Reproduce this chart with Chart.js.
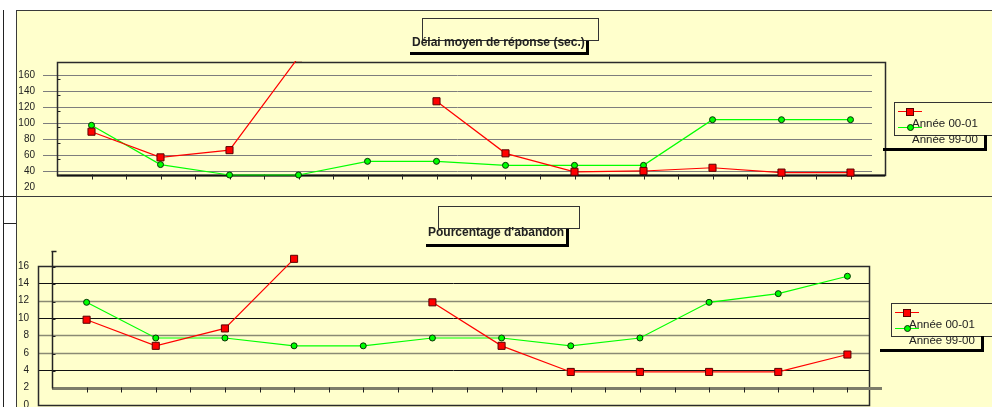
<!DOCTYPE html>
<html lang="fr">
<head>
<meta charset="utf-8">
<title>Délai moyen de réponse / Pourcentage d'abandon</title>
<script src="https://cdn.jsdelivr.net/npm/chart.js@4.4.1/dist/chart.umd.min.js"></script>
<style>
    html, body { margin: 0; padding: 0; background: #fff; }
    body { width: 992px; height: 407px; position: relative; overflow: hidden;
           font-family: Arial, "Liberation Sans", sans-serif; color: #222; }
    .panel { position: absolute; background: #ffffcc; border: 1px solid #3a3a3a; box-sizing: border-box; }
    .rule { position: absolute; background: #222; }
    .chart-box { position: absolute; left: 0; width: 992px; }
    .frame { position: absolute; border: 1px solid #333; box-sizing: border-box; }
    .title-text { position: absolute; font-weight: bold; font-size: 12px; line-height: 13px; white-space: nowrap; }
    .shadow { position: absolute; background: #000; }
    .legend { position: absolute; }
    .legend .frame { background: #ffffcc; }
    .legend .sample { position: absolute; height: 1px; width: 24px; }
    .legend .mark { position: absolute; box-sizing: border-box; }
    .legend .label { position: absolute; font-size: 11.5px; line-height: 13px; white-space: nowrap; }
</style>
</head>
<body>

<!-- left strip -->
<div class="rule" style="left:3px; top:10px; width:1px; height:397px;"></div>
<div class="rule" style="left:0; top:196px; width:17px; height:1px;"></div>
<div class="rule" style="left:3px; top:223px; width:13px; height:1px;"></div>

<div class="panel" style="left:16px; top:10px; width:990px; height:188px;"></div>
<div class="panel" style="left:16px; top:196px; width:990px; height:230px;"></div>

<div class="chart-box" style="top:0; height:197px;"><canvas id="chart-delai" width="992" height="197"></canvas></div>
<div class="chart-box" style="top:197px; height:214px;"><canvas id="chart-abandon" width="992" height="214"></canvas></div>

<!-- titles -->
<div class="frame" style="left:422px; top:18px; width:177px; height:23px;"></div>
<div class="title-text" style="left:412px; top:36px;">Délai moyen de réponse (sec.)</div>
<div class="shadow" style="left:410px; top:52px; width:178px; height:3px;"></div>
<div class="shadow" style="left:586px; top:41px; width:3px; height:14px;"></div>

<div class="frame" style="left:438px; top:206px; width:142px; height:23px;"></div>
<div class="title-text" style="left:428px; top:226px;">Pourcentage d'abandon</div>
<div class="shadow" style="left:426px; top:244px; width:142px; height:3px;"></div>
<div class="shadow" style="left:566px; top:229px; width:3px; height:18px;"></div>

<div class="legend" id="legend-delai" style="left:883px; top:102px;"></div>
<div class="legend" id="legend-abandon" style="left:880px; top:303px;"></div>

<script>
// 12 periods, no labels shown on the axis
const PERIODES = ['1', '2', '3', '4', '5', '6', '7', '8', '9', '10', '11', '12'];
const SERIES_NAMES = ['Année 00-01', 'Année 99-00'];

// Délai moyen de réponse (sec.)
const DELAI_0001 = [89, 57, 66, 182, null, 127, 62, 39, 40, 44, 38, 38];
const DELAI_9900 = [97, 48, 35, 35, 52, 52, 47, 47, 47, 104, 104, 104];
const DELAI_TICKS = [20, 40, 60, 80, 100, 120, 140, 160];

// Pourcentage d'abandon
const ABANDON_0001 = [9.8, 6.8, 8.8, 16.8, null, 11.8, 6.8, 3.8, 3.8, 3.8, 3.8, 5.8];
const ABANDON_9900 = [11.8, 7.7, 7.7, 6.8, 6.8, 7.7, 7.7, 6.8, 7.7, 11.8, 12.8, 14.8];
const ABANDON_TICKS = [0, 2, 4, 6, 8, 10, 12, 14, 16];

const FONT = 'Arial, "Liberation Sans", sans-serif';
const RED = '#ff0000';
const GREEN = '#00ff00';

function line(ctx, x1, y1, x2, y2) {
    ctx.beginPath();
    ctx.moveTo(x1, y1);
    ctx.lineTo(x2, y2);
    ctx.stroke();
}

// plot box, grid lines and axis lines, drawn behind the series
const framePlugin = {
    id: 'frame',
    beforeDatasetsDraw(chart, args, opts) {
        const { ctx, chartArea: a, scales: { x, y } } = chart;
        ctx.save();

        opts.grid.forEach(v => {
            const py = Math.round(y.getPixelForValue(v)) + 0.5;
            const dark = opts.darkGrid.includes(v);
            ctx.strokeStyle = dark ? '#111' : opts.gridColor;
            ctx.lineWidth = dark ? 1 : opts.gridWidth;
            line(ctx, a.left + opts.gridFrom, py, a.right + opts.gridTo, py);
        });

        const boxTop = Math.round(y.getPixelForValue(opts.boxTop)) + 0.5;
        const boxBottom = Math.round(y.getPixelForValue(opts.boxBottom)) + 0.5;
        const boxLeft = Math.round(a.left + opts.boxFrom) + 0.5;
        const boxRight = Math.round(a.right + opts.boxTo) + 0.5;
        ctx.strokeStyle = '#2a2a2a';
        ctx.lineWidth = 1.5;
        ctx.strokeRect(boxLeft, boxTop, boxRight - boxLeft, boxBottom - boxTop);

        // x axis with ticks at each point and half way between
        const ay = Math.round(y.getPixelForValue(opts.axisAt)) + 0.5;
        ctx.strokeStyle = opts.axisColor;
        ctx.lineWidth = opts.axisWidth;
        line(ctx, a.left + opts.axisFrom, ay, a.right + opts.axisTo, ay);
        const half = (x.getPixelForValue(1) - x.getPixelForValue(0)) / 2;
        ctx.strokeStyle = '#222';
        ctx.lineWidth = 1;
        PERIODES.forEach((p, i) => {
            const px = Math.round(x.getPixelForValue(i)) + 0.5;
            line(ctx, px, ay - 1, px, ay + 4);
            if (i < PERIODES.length - 1) {
                const mx = Math.round(x.getPixelForValue(i) + half) + 0.5;
                line(ctx, mx, ay - 1, mx, ay + 4);
            }
        });

        // separate y axis line (second chart)
        if (opts.yAxisLine) {
            const lx = Math.round(a.left) + 0.5;
            ctx.strokeStyle = '#222';
            ctx.lineWidth = 1.5;
            line(ctx, lx, a.top, lx, ay);
            line(ctx, lx - 1, a.top + 0.5, lx + 4, a.top + 0.5);
            ctx.lineWidth = 1;
            opts.grid.concat([opts.boxTop]).forEach(v => {
                const py = Math.round(y.getPixelForValue(v)) + 1.5;
                line(ctx, lx, py, lx + 3, py);
            });
        } else {
            // little marks inside the left edge of the box
            ctx.strokeStyle = '#222';
            ctx.lineWidth = 1;
            opts.grid.forEach(v => {
                const py = Math.round(y.getPixelForValue(v)) + 4.5;
                line(ctx, boxLeft, py, boxLeft + 3, py);
            });
        }
        ctx.restore();
    }
};

function makeDatasets(red, green) {
    return [
        {
            label: SERIES_NAMES[0],
            data: red,
            borderColor: RED,
            borderWidth: 1.2,
            pointStyle: 'rect',
            pointRadius: 5,
            pointBackgroundColor: RED,
            pointBorderColor: '#5a0000',
            pointBorderWidth: 1,
            spanGaps: false,
            tension: 0,
            clip: { left: 8, right: 8, top: 1, bottom: 8 }
        },
        {
            label: SERIES_NAMES[1],
            data: green,
            borderColor: GREEN,
            borderWidth: 1.2,
            pointStyle: 'circle',
            pointRadius: 3,
            pointBackgroundColor: GREEN,
            pointBorderColor: '#063006',
            pointBorderWidth: 1,
            tension: 0,
            clip: { left: 8, right: 8, top: 1, bottom: 8 }
        }
    ];
}

function makeChart(canvasId, cfg) {
    const ctx = document.getElementById(canvasId);
    return new Chart(ctx, {
        type: 'line',
        data: {
            labels: PERIODES,
            datasets: makeDatasets(cfg.red, cfg.green)
        },
        options: {
            responsive: false,
            animation: false,
            events: [],
            layout: { padding: cfg.padding },
            plugins: {
                legend: { display: false },
                tooltip: { enabled: false },
                frame: cfg.frame
            },
            scales: {
                x: { display: false, offset: true },
                y: {
                    min: cfg.min,
                    max: cfg.max,
                    afterBuildTicks: axis => {
                        axis.ticks = cfg.ticks.map(v => ({ value: v }));
                    },
                    afterFit: scale => {
                        // fixed axis width; labels may overhang the chart area
                        scale.width = cfg.axisWidth;
                        scale.paddingTop = 0;
                        scale.paddingBottom = 0;
                    },
                    grid: { display: false, drawTicks: false },
                    border: { display: false },
                    ticks: {
                        padding: cfg.tickPadding,
                        color: '#222',
                        font: { family: FONT, size: 10 }
                    }
                }
            }
        },
        plugins: [framePlugin]
    });
}

function buildLegend(elId, chart) {
    const el = document.getElementById(elId);
    const ds = chart.data.datasets;
    let html = '<div class="frame" style="left:11px; top:0; width:110px; height:34px;"></div>';
    ds.forEach((d, i) => {
        const sy = 9 + i * 16;
        html += `<div class="sample" style="left:15px; top:${sy}px; background:${d.borderColor};"></div>`;
        if (d.pointStyle === 'rect') {
            html += `<div class="mark" style="left:23px; top:${sy - 3}px; width:8px; height:8px; background:${d.pointBackgroundColor}; border:1px solid ${d.pointBorderColor};"></div>`;
        } else {
            html += `<div class="mark" style="left:24px; top:${sy - 3}px; width:7px; height:7px; border-radius:50%; background:${d.pointBackgroundColor}; border:1px solid ${d.pointBorderColor};"></div>`;
        }
        html += `<div class="label" style="left:29px; top:${15 + i * 16}px;">${d.label}</div>`;
    });
    html += '<div class="shadow" style="left:0; top:46px; width:104px; height:3px;"></div>';
    html += '<div class="shadow" style="left:101px; top:33px; width:3px; height:16px;"></div>';
    el.innerHTML = html;
}

const delaiChart = makeChart('chart-delai', {
    red: DELAI_0001,
    green: DELAI_9900,
    ticks: DELAI_TICKS,
    min: 20,
    max: 176,
    axisWidth: 57,
    tickPadding: 22,
    padding: { top: 62, right: 107, bottom: 10, left: 0 },
    frame: {
        grid: DELAI_TICKS.filter(v => v >= 40),
        darkGrid: [],
        gridColor: '#7d7d7d',
        gridWidth: 1,
        gridFrom: -14,
        gridTo: -13,
        boxTop: 176,
        boxBottom: 35,
        boxFrom: 0,
        boxTo: 0,
        axisAt: 35,
        axisFrom: 0,
        axisTo: 0,
        axisColor: '#111',
        axisWidth: 2,
        yAxisLine: false
    }
});

const abandonChart = makeChart('chart-abandon', {
    red: ABANDON_0001,
    green: ABANDON_9900,
    ticks: ABANDON_TICKS,
    min: 0,
    max: 17.7,
    axisWidth: 52,
    tickPadding: 23,
    padding: { top: 54, right: 110, bottom: 6, left: 0 },
    frame: {
        grid: ABANDON_TICKS.filter(v => v >= 4 && v <= 14),
        darkGrid: [14, 10, 4],
        gridColor: '#8a8a74',
        gridWidth: 1.5,
        gridFrom: -14,
        gridTo: -13,
        boxTop: 16,
        boxBottom: 0,
        boxFrom: -14,
        boxTo: -13,
        axisAt: 2,
        axisFrom: 0,
        axisTo: 0,
        axisColor: '#7c7c6a',
        axisWidth: 3,
        yAxisLine: true
    }
});

buildLegend('legend-delai', delaiChart);
buildLegend('legend-abandon', abandonChart);
</script>
</body>
</html>
